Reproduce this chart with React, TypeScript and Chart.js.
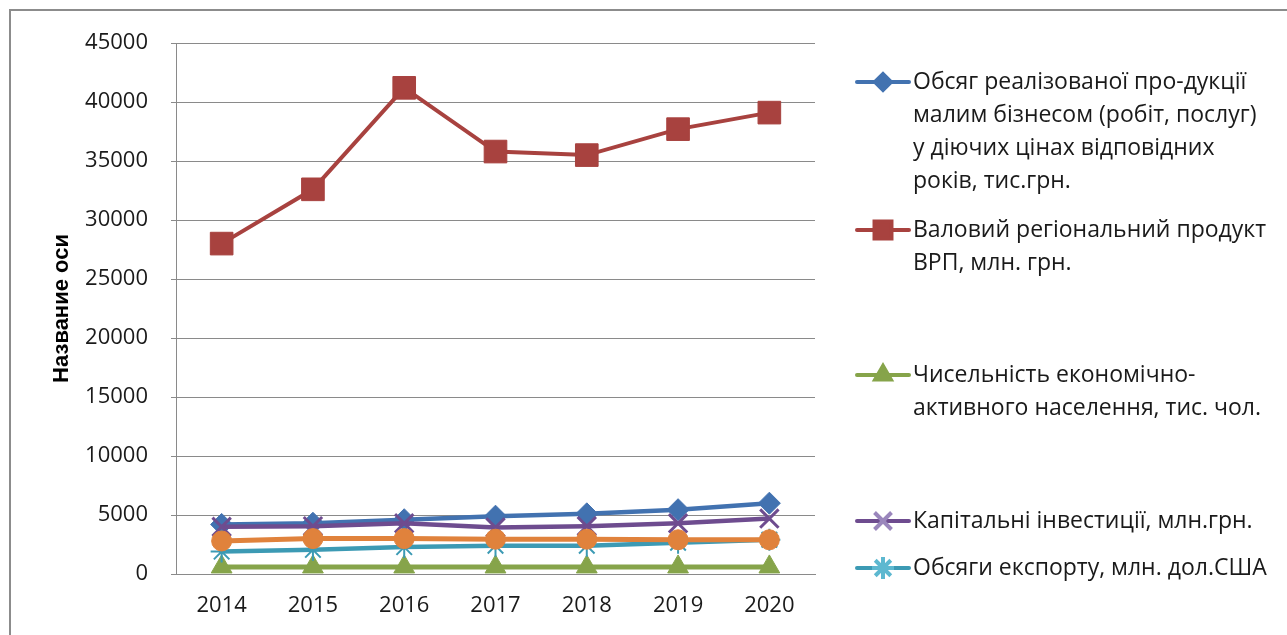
import React, { useEffect, useRef } from "react";
import { Chart, registerables } from "chart.js";
import { drawPoint } from "chart.js/helpers";

Chart.register(...registerables);

const years = ["2014", "2015", "2016", "2017", "2018", "2019", "2020"];

const smallBusiness = [4200, 4300, 4600, 4900, 5100, 5450, 6000];
const grp = [28000, 32600, 41200, 35800, 35500, 37700, 39100];
const activePopulation = [600, 600, 600, 600, 600, 600, 600];
const capitalInvestment = [4000, 4050, 4300, 3950, 4050, 4300, 4700];
const exportVolume = [1900, 2050, 2280, 2400, 2400, 2650, 2900];
const unnamedSeries = [2800, 3000, 3000, 2950, 2950, 2900, 2900];

const yTicks = [0, 5000, 10000, 15000, 20000, 25000, 30000, 35000, 40000, 45000];

const legendSmallBusiness = [
  "Обсяг реалізованої про-дукції",
  "малим бізнесом (робіт, послуг)",
  "у діючих цінах відповідних",
  "років, тис.грн.",
];
const legendGrp = ["Валовий регіональний продукт", "ВРП, млн. грн."];
const legendPopulation = ["Чисельність економічно-", "активного населення, тис. чол."];
const legendInvestment = ["Капітальні інвестиції, млн.грн."];
const legendExport = ["Обсяги експорту, млн. дол.США"];

const FONT = "'Open Sans', 'Liberation Sans', sans-serif";

const legendEntries = [
  { lines: legendSmallBusiness, color: "#4272B0", style: "rectRot", r: 8, bw: 1, y: 82 },
  { lines: legendGrp, color: "#A8423F", style: "rect", r: 12, bw: 1, y: 230 },
  { lines: legendPopulation, color: "#86A44A", style: "triangle", r: 9, bw: 1, y: 375 },
  { lines: legendInvestment, color: "#9A86BC", style: "crossRot", r: 12, bw: 1.2, y: 521 },
  { lines: legendExport, color: "#5DB8D0", style: "star", r: 11, bw: 1.2, y: 568 },
];
const legendLineColors = ["#4272B0", "#A8423F", "#86A44A", "#6E4C8F", "#3C9AB4"];

const legendPlugin = {
  id: "customLegend",
  afterDraw(chart: any) {
    const ctx = chart.ctx as CanvasRenderingContext2D;
    ctx.save();
    legendEntries.forEach((e, i) => {
      ctx.strokeStyle = legendLineColors[i];
      ctx.lineWidth = 4;
      ctx.lineCap = "round";
      ctx.beginPath();
      ctx.moveTo(857, e.y);
      ctx.lineTo(909, e.y);
      ctx.stroke();
      ctx.fillStyle = e.color;
      ctx.strokeStyle = e.color;
      ctx.lineCap = "butt";
      drawPoint(ctx, { pointStyle: e.style, radius: e.r, borderWidth: e.bw, rotation: 0 } as any, 883, e.y);
      ctx.fillStyle = "#1a1a1a";
      ctx.font = `23px ${FONT}`;
      ctx.textAlign = "left";
      ctx.textBaseline = "middle";
      e.lines.forEach((t, k) => {
        ctx.fillText(t, 913, e.y + k * 33);
      });
    });
    ctx.restore();
  },
};

export default function App() {
  const ref = useRef<HTMLCanvasElement | null>(null);
  useEffect(() => {
    if (!ref.current) return;
    const chart = new Chart(ref.current, {
      type: "line",
      data: {
        labels: years,
        datasets: [
          {
            label: legendSmallBusiness.join(" "),
            data: smallBusiness,
            borderColor: "#4272B0",
            backgroundColor: "#4272B0",
            pointBorderColor: "#4272B0",
            borderWidth: 4.5,
            pointStyle: "rectRot",
            pointRadius: 11,
            pointBorderWidth: 1,
            order: 5,
          },
          {
            label: legendGrp.join(" "),
            data: grp,
            borderColor: "#A8423F",
            backgroundColor: "#A8423F",
            pointBorderColor: "#A8423F",
            borderWidth: 4,
            pointStyle: "rect",
            pointRadius: 16,
            pointBorderWidth: 1,
            order: 4,
          },
          {
            label: legendPopulation.join(" "),
            data: activePopulation,
            borderColor: "#86A44A",
            backgroundColor: "#86A44A",
            pointBorderColor: "#86A44A",
            borderWidth: 5,
            pointStyle: "triangle",
            pointRadius: 12,
            pointBorderWidth: 1,
            order: 3,
          },
          {
            label: legendInvestment.join(" "),
            data: capitalInvestment,
            borderColor: "#6E4C8F",
            backgroundColor: "#6E4C8F",
            pointBorderColor: "#6E4C8F",
            borderWidth: 4.5,
            pointStyle: "crossRot",
            pointRadius: 13,
            pointBorderWidth: 3,
            order: 2,
          },
          {
            label: legendExport.join(" "),
            data: exportVolume,
            borderColor: "#3C9AB4",
            backgroundColor: "#3C9AB4",
            pointBorderColor: "#3C9AB4",
            borderWidth: 4.5,
            pointStyle: "star",
            pointRadius: 11,
            pointBorderWidth: 2,
            order: 1,
          },
          {
            label: "",
            data: unnamedSeries,
            borderColor: "#E0823C",
            backgroundColor: "#E0823C",
            pointBorderColor: "#E0823C",
            borderWidth: 5,
            pointStyle: "circle",
            pointRadius: 10,
            pointBorderWidth: 1,
            order: 0,
          },
        ],
      },
      options: {
        responsive: false,
        animation: false,
        events: [],
        layout: { padding: { left: 0, top: 43, right: 472, bottom: 0 } },
        plugins: {
          legend: { display: false },
          tooltip: { enabled: false },
        },
        scales: {
          x: {
            type: "category",
            offset: true,
            grid: { display: false, drawTicks: false },
            border: { display: true, color: "#8a8a8a", width: 1 },
            ticks: { color: "#1a1a1a", font: { family: FONT, size: 22 }, padding: 19, maxRotation: 0 },
            afterFit: (s: any) => {
              s.height = 61;
            },
          },
          y: {
            min: 0,
            max: 45000,
            afterBuildTicks: (s: any) => {
              s.ticks = yTicks.map((v) => ({ value: v }));
            },
            ticks: {
              color: "#1a1a1a",
              font: { family: FONT, size: 22 },
              padding: 23,
              callback: (v: any) => String(v),
            },
            grid: { color: "#8a8a8a", lineWidth: 1, tickLength: 5, drawTicks: true },
            border: { display: true, color: "#8a8a8a", width: 1 },
            title: {
              display: true,
              text: "Название оси",
              color: "#000",
              font: { family: "'Liberation Sans', Arial, sans-serif", size: 22, weight: "bold" },
              padding: { top: 49, bottom: 0 },
            },
            afterFit: (s: any) => {
              s.width = 176;
            },
          },
        },
      },
      plugins: [legendPlugin],
    });
    return () => chart.destroy();
  }, []);

  return (
    <div style={{ position: "fixed", left: 0, top: 0, width: 1287, height: 635, background: "#fff" }}>
      <div
        style={{
          position: "absolute",
          left: 9,
          top: 9,
          width: 1300,
          height: 700,
          borderLeft: "2px solid #8c8c8c",
          borderTop: "2px solid #8c8c8c",
        }}
      />
      <canvas ref={ref} width={1287} height={635} style={{ position: "absolute", left: 0, top: 0 }} />
    </div>
  );
}
